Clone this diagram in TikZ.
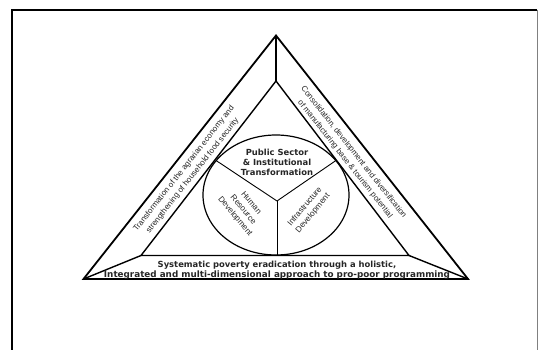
\documentclass[tikz,border=0pt]{standalone}
\usepackage{fontspec}
\setmainfont{Liberation Sans}
\newfontfamily\headfont{DejaVu Sans}
\begin{document}
\begin{tikzpicture}[x=1pt,y=-1pt,
  outerline/.style={line width=1.8pt, line join=miter},
  innerline/.style={line width=1.4pt},
  ringline/.style={line width=1.2pt},
  spoke/.style={line width=0.9pt},
  bandtext/.style={align=center, inner sep=0pt, text=black!85,
    font=\fontsize{8}{11}\selectfont},
  sectortext/.style={align=center, inner sep=0pt, text=black!85,
    font=\fontsize{8.2}{10.4}\selectfont},
  headtext/.style={align=center, inner sep=0pt, text=black!85,
    font=\headfont\bfseries\fontsize{8.4}{10.3}\selectfont}]
\useasboundingbox (0,0) rectangle (538,350);

% page frame
\draw[line width=1.6pt] (12,352) -- (12,10) -- (537,10);
\draw[gray, line width=0.8pt] (537,10) -- (537,352);

% corner points of the two triangles
\coordinate (oA) at (276,35.5);
\coordinate (oL) at (83.5,279);
\coordinate (oR) at (468,279);
\coordinate (iA) at (276,81);
\coordinate (iL) at (141,255.5);
\coordinate (iR) at (409,255.5);

% central ring and its three spokes
\coordinate (C) at (276,195);
\coordinate (J) at (277,201);
\coordinate (s1) at (216.2,160.6);
\coordinate (s2) at (335.8,160.6);
\coordinate (s3) at (277,254.5);

\draw[outerline] (oA) -- (oL) -- (oR) -- cycle;
\draw[innerline] (iA) -- (iL) -- (iR) -- cycle;
\draw[innerline] (oA) -- (iA);
\draw[innerline] (oL) -- (iL);
\draw[innerline] (oR) -- (iR);

\draw[ringline] (C) ellipse [x radius=73, y radius=60];
\draw[spoke] (J) -- (s1);
\draw[spoke] (J) -- (s2);
\draw[spoke] (J) -- (s3);

% labels
\node[headtext] (core) at (277,162.5)
  {Public Sector\\ \& Institutional\\ Transformation};
\node[sectortext, rotate=-50] (hrd) at (243,210)
  {Human\\ Resource\\ Development};
\node[sectortext, rotate=50] (infra) at (309,210)
  {Infrastructure\\ Development};
\node[bandtext, rotate=51.7] (agri) at (188.3,172.3)
  {Transformation of the agrarian economy and\\ strengthening of household food security};
\node[bandtext, rotate=-51.7] (manu) at (349.3,155.8)
  {Consolidation, development and diversification\\ of manufacturing base \& tourism potential};
\node[headtext] (base) at (277,270)
  {{\fontsize{8.4}{10}\selectfont Systematic poverty eradication through a holistic,}\\
   {\fontsize{8.8}{10}\selectfont Integrated and multi-dimensional approach to pro-poor programming}};
\end{tikzpicture}
\end{document}
